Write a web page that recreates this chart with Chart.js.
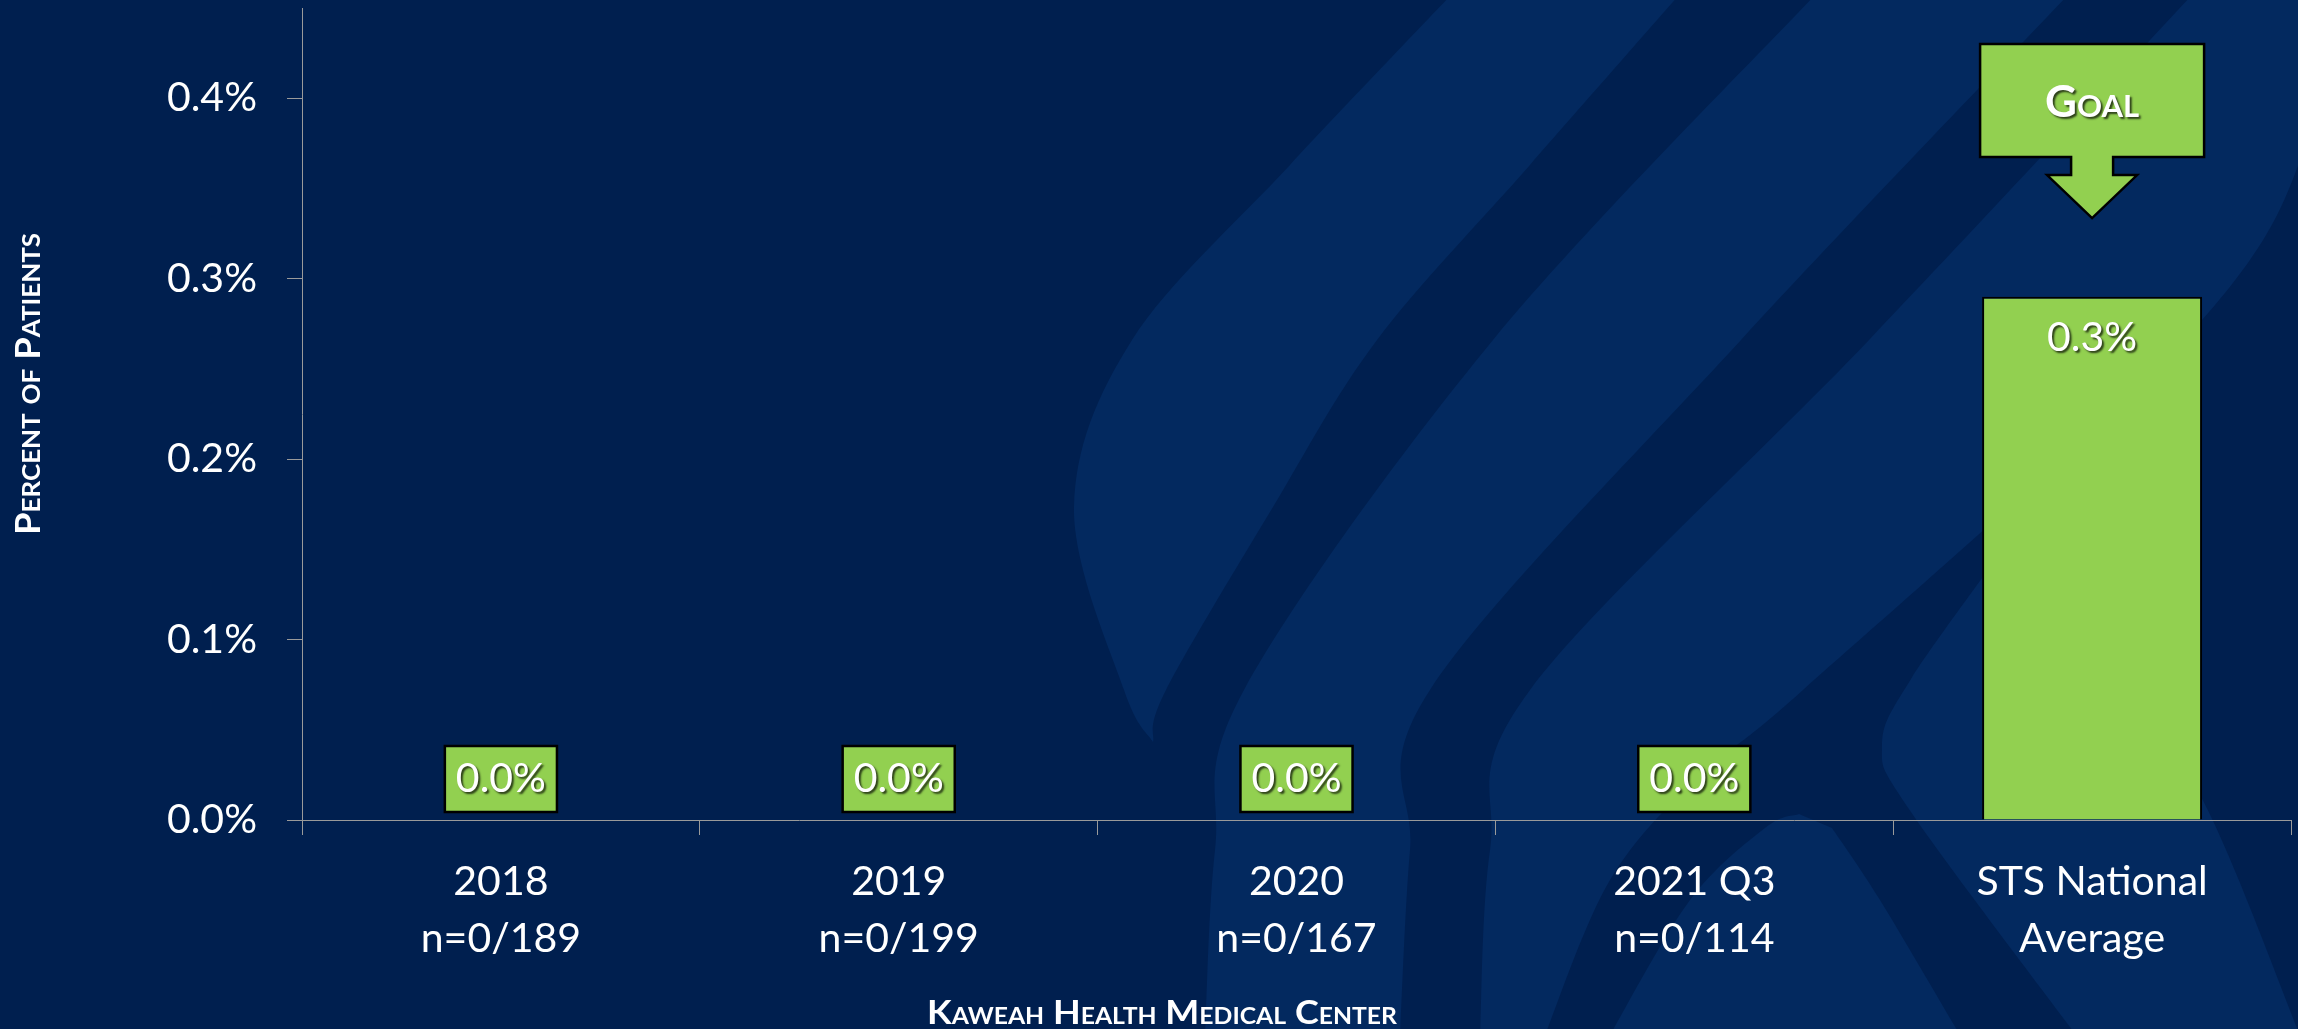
<!DOCTYPE html>
<html>
<head>
<meta charset="utf-8">
<script src="https://cdn.jsdelivr.net/npm/chart.js@4.4.1/dist/chart.umd.min.js"></script>
<style>
html,body{margin:0;padding:0;background:#001f4f;overflow:hidden}
#wrap{width:2298px;height:1029px;position:relative}
canvas{display:block}
</style>
</head>
<body>
<div id="wrap"><canvas id="c" width="2298" height="1029"></canvas></div>
<script>
// ---------- data ----------
const categories = ['2018', '2019', '2020', '2021 Q3', 'STS National Average'];
const tickLabels = [['2018', 'n=0/189'], ['2019', 'n=0/199'], ['2020', 'n=0/167'], ['2021 Q3', 'n=0/114'], ['STS National', 'Average']];
const values = [0, 0, 0, 0, 0.29];
const valueLabels = ['0.0%', '0.0%', '0.0%', '0.0%', '0.3%'];
const yTicks = [0, 0.1, 0.2, 0.3, 0.4];
const yTickLabels = ['0.0%', '0.1%', '0.2%', '0.3%', '0.4%'];
const yTitle = 'Percent of Patients';
const xTitle = 'Kaweah Health Medical Center';
const goalText = 'Goal';
const goalIndex = 4;

// ---------- styles ----------
const DARK = '#001f4f';
const LIGHT = '#03295f';
const GREEN = '#92d050';
const AXIS = '#9a9a9a';
const FONT = 'Lato';

function smooth(ctx, pts, first) {
  if (first) ctx.moveTo(pts[0][0], pts[0][1]); else ctx.lineTo(pts[0][0], pts[0][1]);
  for (let i = 0; i < pts.length - 1; i++) {
    const p0 = pts[i - 1] || pts[i], p1 = pts[i], p2 = pts[i + 1], p3 = pts[i + 2] || p2;
    ctx.bezierCurveTo(p1[0] + (p2[0] - p0[0]) / 6, p1[1] + (p2[1] - p0[1]) / 6,
                      p2[0] - (p3[0] - p1[0]) / 6, p2[1] - (p3[1] - p1[1]) / 6, p2[0], p2[1]);
  }
}
function band(ctx, left, right) {
  ctx.beginPath(); smooth(ctx, left, true); smooth(ctx, right, false); ctx.closePath(); ctx.fill();
}

const bgPlugin = {
  id: 'bg',
  beforeDraw(chart) {
    const c = chart.ctx, W = chart.width, H = chart.height;
    c.save();
    c.fillStyle = DARK; c.fillRect(0, 0, W, H);
    c.fillStyle = LIGHT;
    // big swoosh
    band(c, [[1451, -5], [1290, 165], [1132, 340], [1074, 507], [1124, 690], [1153, 742]],
            [[1153, 742], [1166, 690], [1273, 507], [1377, 340], [1530, 165], [1679, -5]]);
    // band 2
    band(c, [[1815, -5], [1493, 340], [1244, 690], [1215, 850], [1205, 1035]],
            [[1400, 1035], [1410, 850], [1430, 690], [1741, 340], [2068, -5]]);
    // band 3
    band(c, [[2192, -5], [1869, 340], [1530, 690], [1490, 850], [1480, 1035]],
            [[1545, 1035], [1610, 880], [1700, 775], [1803, 690], [2175, 350], [2300, 160], [2300, -5]]);
    // arch
    band(c, [[1610, 1035], [1690, 900], [1765, 828], [1799, 814]],
            [[1832, 828], [1880, 900], [1960, 1035]]);
    // lower right chevron
    band(c, [[2010, 540], [1911, 679], [1882, 746], [1911, 812], [2076, 1035]],
            [[2300, 1035], [2200, 795], [2110, 690], [2080, 540]]);
    c.restore();
  }
};

function capsText(c, text, x, y, size, targetWidth, shadow) {
  c.save();
  c.font = 'small-caps bold ' + size + 'px ' + FONT;
  try { c.fontVariantCaps = 'small-caps'; } catch (e) {}
  c.textAlign = 'center'; c.textBaseline = 'alphabetic';
  const w = c.measureText(text).width;
  c.translate(x, y);
  c.scale(targetWidth / w, 1);
  c.fillStyle = '#ffffff';
  if (shadow) { c.shadowColor = 'rgba(0,0,0,0.7)'; c.shadowOffsetX = 2; c.shadowOffsetY = 2; c.shadowBlur = 2; }
  c.fillText(text, 0, 0);
  c.restore();
}

const annPlugin = {
  id: 'ann',
  afterDatasetsDraw(chart) {
    const c = chart.ctx;
    const meta = chart.getDatasetMeta(0);
    const ys = chart.scales.y;
    // value labels
    meta.data.forEach((bar, i) => {
      const txt = valueLabels[i];
      c.save();
      c.font = '41px ' + FONT;
      c.textAlign = 'center'; c.textBaseline = 'middle';
      const tw = c.measureText(txt).width;
      let cy;
      if (values[i] === 0) {
        const bh = 66, bw = tw + 22;
        const bottom = bar.base - 8;
        c.fillStyle = GREEN; c.strokeStyle = '#000'; c.lineWidth = 2.5;
        c.fillRect(bar.x - bw / 2, bottom - bh, bw, bh);
        c.strokeRect(bar.x - bw / 2, bottom - bh, bw, bh);
        cy = bottom - bh / 2;
      } else {
        cy = bar.y + 41;
      }
      c.fillStyle = '#ffffff';
      c.shadowColor = 'rgba(0,0,0,0.7)'; c.shadowOffsetX = 2; c.shadowOffsetY = 2; c.shadowBlur = 2;
      c.fillText(txt, bar.x, cy);
      c.restore();
    });
    // goal callout
    const g = meta.data[goalIndex];
    const cx = g.x;
    const T = ys.getPixelForValue(0.43), B = ys.getPixelForValue(0.3674);
    const hY = ys.getPixelForValue(0.3574), tip = ys.getPixelForValue(0.3336);
    c.save();
    c.beginPath();
    c.moveTo(cx - 112, T); c.lineTo(cx + 112, T); c.lineTo(cx + 112, B);
    c.lineTo(cx + 21, B); c.lineTo(cx + 21, hY); c.lineTo(cx + 45, hY);
    c.lineTo(cx, tip); c.lineTo(cx - 45, hY); c.lineTo(cx - 21, hY);
    c.lineTo(cx - 21, B); c.lineTo(cx - 112, B); c.closePath();
    c.fillStyle = GREEN; c.fill();
    c.strokeStyle = '#000'; c.lineWidth = 2.5; c.lineJoin = 'miter'; c.stroke();
    c.restore();
    capsText(c, goalText, cx, T + 73, 44, 94, true);
  },
  afterDraw(chart) {
    const c = chart.ctx;
    // y title (rotated)
    c.save();
    c.translate(40, 384);
    c.rotate(-Math.PI / 2);
    capsText(c, yTitle, 0, 0, 35, 302, false);
    c.restore();
    // x title
    capsText(c, xTitle, 1162, 1024, 32, 470, false);
    // extend y axis line below baseline like the original
    const a = chart.chartArea;
    c.save();
    c.strokeStyle = AXIS; c.lineWidth = 1;
    c.beginPath(); c.moveTo(a.left + 0.5, a.bottom); c.lineTo(a.left + 0.5, a.bottom + 13); c.stroke();
    c.restore();
  }
};

new Chart(document.getElementById('c'), {
  type: 'bar',
  data: {
    labels: tickLabels,
    datasets: [{
      label: categories.join(', '),
      data: values,
      backgroundColor: GREEN,
      borderColor: '#000000',
      borderWidth: 2,
      barPercentage: 0.553,
      categoryPercentage: 1
    }]
  },
  options: {
    responsive: false,
    animation: false,
    devicePixelRatio: 1,
    layout: { padding: { top: 8, right: 7, left: 0, bottom: 0 } },
    plugins: { legend: { display: false }, tooltip: { enabled: false }, title: { display: false } },
    scales: {
      x: {
        grid: { display: true, drawOnChartArea: false, drawTicks: true, tickLength: 15, color: AXIS, lineWidth: 1, offset: true },
        border: { display: true, color: AXIS, width: 1 },
        ticks: { color: '#ffffff', font: { family: FONT, size: 41, lineHeight: 1.39 }, padding: 18, maxRotation: 0, minRotation: 0, autoSkip: false },
        afterFit: s => { s.height = 209; s.paddingLeft = 0; s.paddingRight = 0; }
      },
      y: {
        min: 0, max: 0.45,
        afterBuildTicks: s => { s.ticks = yTicks.map(v => ({ value: v })); },
        grid: { display: true, drawOnChartArea: false, drawTicks: true, tickLength: 15, color: AXIS, lineWidth: 1 },
        border: { display: true, color: AXIS, width: 1 },
        ticks: { color: '#ffffff', font: { family: FONT, size: 41 }, padding: 30, callback: (v, i) => yTickLabels[i] },
        afterFit: s => { s.width = 302; s.paddingTop = 0; s.paddingBottom = 0; }
      }
    }
  },
  plugins: [bgPlugin, annPlugin]
});
</script>
</body>
</html>
